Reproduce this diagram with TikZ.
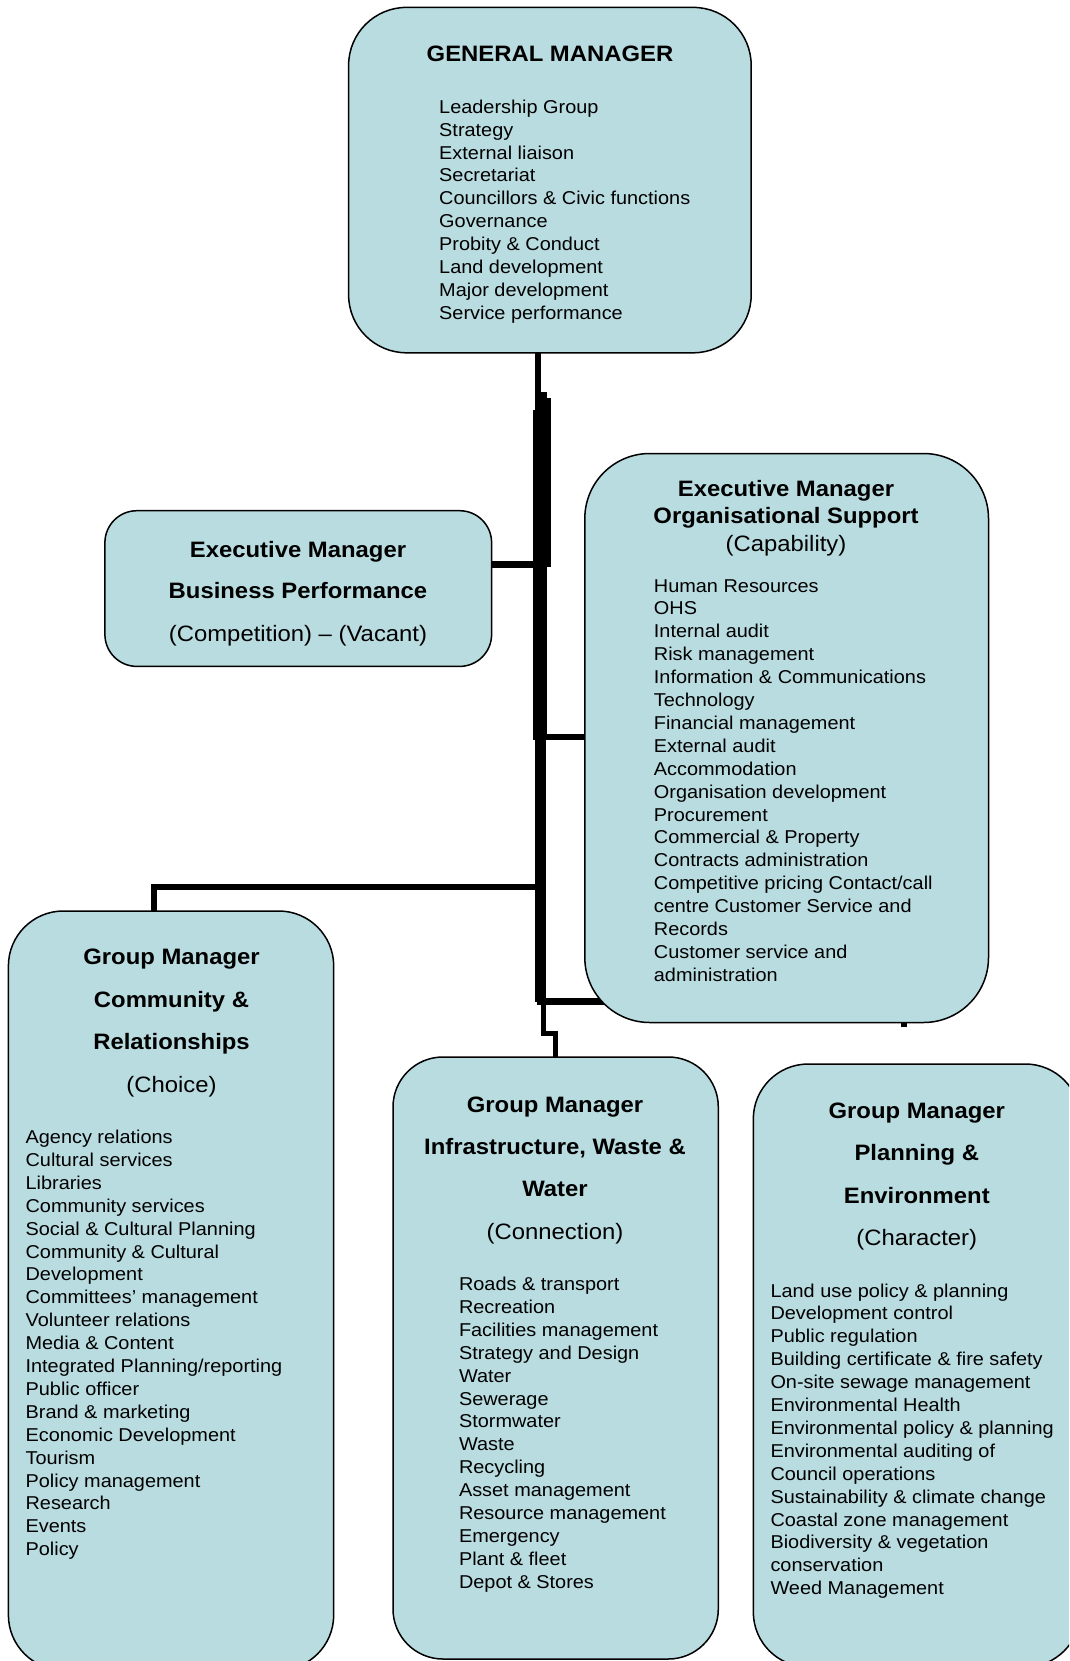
\documentclass[tikz,border=0pt]{standalone}
\usepackage{fontspec}
\setmainfont{Liberation Sans}[FakeStretch=1.07]
\pgfdeclarelayer{background}
\pgfsetlayers{background,main}
\definecolor{boxfill}{RGB}{185,220,224}
\tikzset{
  box/.style={draw=black, line width=1.5pt, fill=boxfill, anchor=north west, inner sep=0pt, outer sep=0pt},
  ttl/.style={anchor=base, inner sep=0pt, font=\fontsize{22.3}{26}\selectfont\bfseries},
  sub/.style={anchor=base, inner sep=0pt, font=\fontsize{22.3}{26}\selectfont},
  lst/.style={anchor=base west, inner sep=0pt, font=\fontsize{18.6}{22.9}\selectfont},
  conn/.style={draw=black, line width=6pt, line cap=rect, line join=miter},
}
\newcommand\drawlist[4]{\foreach \t [count=\i] in {#4}{\node[lst] (#1\i) at (#2,{#3+(\i-1)*22.9}) {\t};}}
\begin{document}
\begin{tikzpicture}[x=1pt,y=-1pt]
\useasboundingbox (0,0) rectangle (1069,1661);
\clip (0,0) rectangle (1069,1661);

% boxes
\node[box, rounded corners=58pt, minimum width=402.6pt, minimum height=345.4pt] (gm) at (348.6,7.4) {};
\node[box, rounded corners=32pt, minimum width=386.7pt, minimum height=155.7pt] (biz) at (104.9,510.7) {};
\node[box, rounded corners=65pt, minimum width=403.7pt, minimum height=569pt] (org) at (584.8,453.5) {};
\node[box, rounded corners=55pt, minimum width=325.3pt, minimum height=759pt] (comm) at (8.4,911) {};
\node[box, rounded corners=50pt, minimum width=325.3pt, minimum height=602pt] (infra) at (393,1057) {};
\node[box, rounded corners=55pt, minimum width=327pt, minimum height=603pt] (plan) at (753.3,1064) {};

% General Manager
\node[ttl] (gmT) at (550,61.7) {GENERAL MANAGER};
\drawlist{gmL}{439}{113.3}{Leadership Group,Strategy,External liaison,Secretariat,Councillors \& Civic functions,Governance,Probity \& Conduct,Land development,Major development,Service performance}

% Business Performance
\node[ttl] (bizT1) at (298,557) {Executive Manager};
\node[ttl] (bizT2) at (298,598.5) {Business Performance};
\node[sub] (bizT3) at (298,641) {(Competition) – (Vacant)};

% Organisational Support
\node[ttl] (orgT1) at (786,496) {Executive Manager};
\node[ttl] (orgT2) at (786,523.5) {Organisational Support};
\node[sub] (orgT3) at (786,551.7) {(Capability)};
\drawlist{orgL}{653.7}{592}{Human Resources,OHS,Internal audit,Risk management,Information \& Communications,Technology,Financial management,External audit,Accommodation,Organisation development,Procurement,Commercial \& Property,Contracts administration,Competitive pricing Contact/call,centre Customer Service and,Records,Customer service and,administration}

% Community
\node[ttl] (commT1) at (171.5,964.7) {Group Manager};
\node[ttl] (commT2) at (171.5,1007) {Community \&};
\node[ttl] (commT3) at (171.5,1049.5) {Relationships};
\node[sub] (commT4) at (171.5,1092) {(Choice)};
\drawlist{commL}{25.4}{1143.5}{Agency relations,Cultural services,Libraries,Community services,Social \& Cultural Planning,Community \& Cultural,Development,Committees’ management,Volunteer relations,Media \& Content,Integrated Planning/reporting,Public officer,Brand \& marketing,Economic Development,Tourism,Policy management,Research,Events,Policy}

% Infrastructure
\node[ttl] (infT1) at (555,1112) {Group Manager};
\node[ttl] (infT2) at (555,1154.4) {Infrastructure, Waste \&};
\node[ttl] (infT3) at (555,1196.8) {Water};
\node[sub] (infT4) at (555,1239) {(Connection)};
\drawlist{infL}{458.8}{1290.5}{Roads \& transport,Recreation,Facilities management,Strategy and Design,Water,Sewerage,Stormwater,Waste,Recycling,Asset management,Resource management,Emergency,Plant \& fleet,Depot \& Stores}

% Planning
\node[ttl] (plT1) at (916.8,1118.4) {Group Manager};
\node[ttl] (plT2) at (916.8,1160.7) {Planning \&};
\node[ttl] (plT3) at (916.8,1203) {Environment};
\node[sub] (plT4) at (916.8,1245.5) {(Character)};
\drawlist{plL}{770.3}{1297}{Land use policy \& planning,Development control,Public regulation,Building certificate \& fire safety,On-site sewage management,Environmental Health,Environmental policy \& planning,Environmental auditing of,Council operations,Sustainability \& climate change,Coastal zone management,Biodiversity \& vegetation,conservation,Weed Management}

% connectors
\coordinate (tU) at (538,0);
\coordinate (tL) at (540.5,0);
\coordinate (jb) at (535,564.5);
\coordinate (jo) at (546,737);
\coordinate (jc) at (538,887);
\coordinate (jd) at (540.5,1001.5);
\coordinate (ji) at (543.5,1033.5);
\begin{pgfonlayer}{background}
  \draw[conn, line cap=butt] (tU |- gm.south) -- (538,400);
  \fill (535,392) rectangle (547,740);
  \fill (547,398) rectangle (551,567);
  \fill (533,410) rectangle (535,740);
  \draw[conn, line width=11pt, line cap=butt] (540.5,740) -- (jd);
  \draw[conn, line width=7pt, line cap=butt] (jb -| biz.east) -- (jb);
  \draw[conn, line cap=butt] (jo) -- (jo -| org.west);
  \draw[conn] (jc) -- (jc -| 153.5,0) -- (153.5,0 |- comm.north);
  \draw[conn, line width=7pt] (jd) -- (jd -| 610,0);
  \draw[conn, line width=5pt, line cap=butt] (543.5,1000) -- (ji) -- (ji -| 555.5,0) -- (555.5,0 |- infra.north);
  \fill (901,1022) rectangle (907,1027);
\end{pgfonlayer}
\end{tikzpicture}
\end{document}
